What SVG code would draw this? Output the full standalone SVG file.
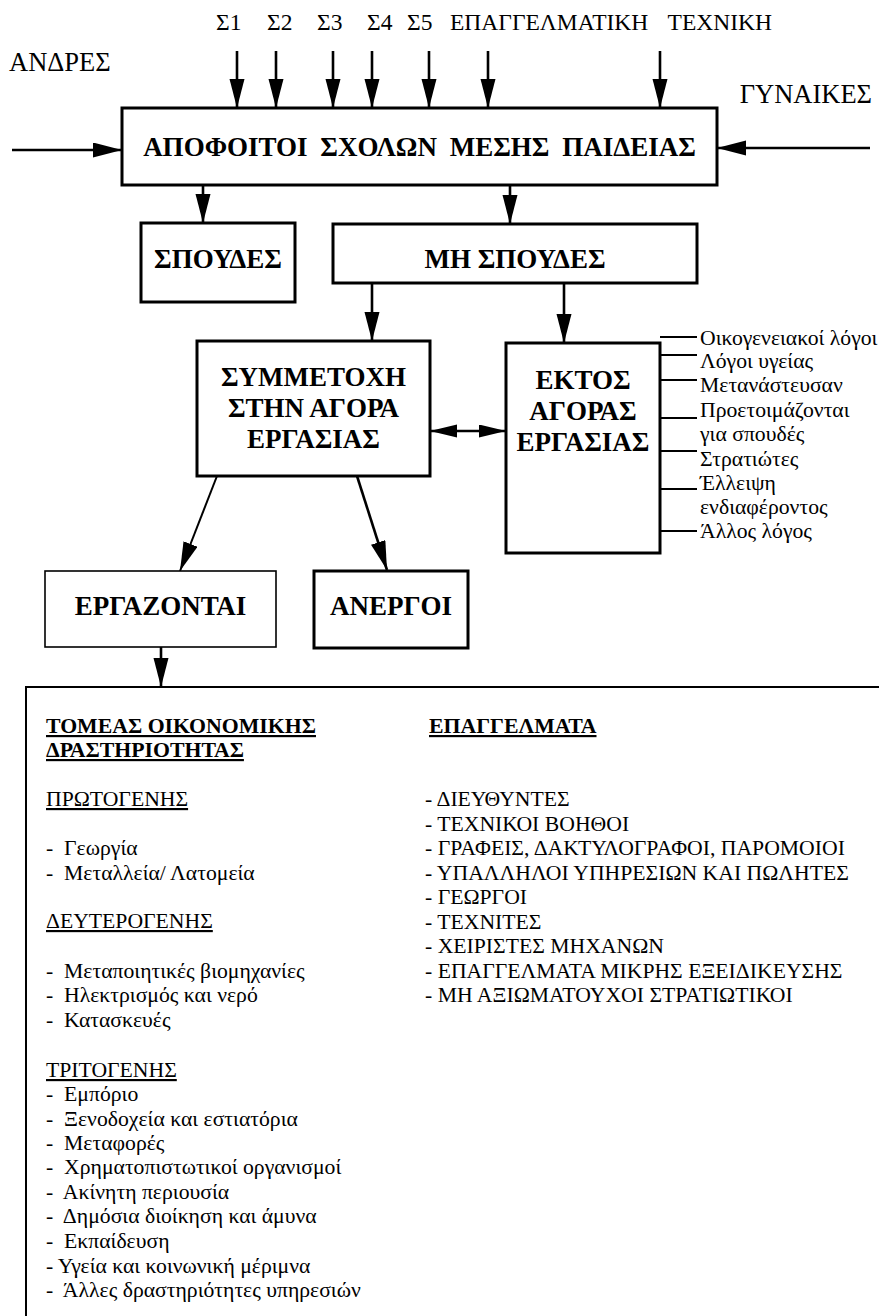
<svg xmlns="http://www.w3.org/2000/svg" width="879" height="1316" viewBox="0 0 879 1316">
<style>
text{font-family:"Liberation Serif","Times New Roman",serif;fill:#000}
.lbl{font-size:23.5px}
.lbl2{font-size:26.5px}
.b{font-weight:bold;font-size:27px}
.box{fill:#fff;stroke:#000;stroke-width:3}
.thin{stroke-width:1.6}
.ln{stroke:#000;stroke-width:2.6;fill:none}
.sl{stroke:#000;stroke-width:2;fill:none}
.t{font-size:21.7px}
.h{font-size:21.8px;font-weight:bold;text-decoration:underline}
.u{text-decoration:underline}
</style>
<defs>
<marker id="ah" markerUnits="userSpaceOnUse" markerWidth="30" markerHeight="16" refX="29" refY="7.5" orient="auto-start-reverse" viewBox="0 0 30 16">
<path d="M0,0 L29,7.5 L0,15 z" fill="#000"/>
</marker>
<marker id="ah2" markerUnits="userSpaceOnUse" markerWidth="28" markerHeight="14" refX="27" refY="6.5" orient="auto-start-reverse" viewBox="0 0 28 14">
<path d="M0,0 L27,6.5 L0,13 z" fill="#000"/>
</marker>
</defs>

<g id="labels-top">
<text class="lbl" x="216" y="30">Σ1</text>
<text class="lbl" x="267" y="30">Σ2</text>
<text class="lbl" x="317" y="30">Σ3</text>
<text class="lbl" x="367" y="30">Σ4</text>
<text class="lbl" x="407" y="30">Σ5</text>
<text class="lbl" x="450" y="30">ΕΠΑΓΓΕΛΜΑΤΙΚΗ</text>
<text class="lbl" x="772" y="30" text-anchor="end">ΤΕΧΝΙΚΗ</text>
<text class="lbl2" x="9" y="71">ΑΝΔΡΕΣ</text>
<text class="lbl2" x="872" y="103" text-anchor="end">ΓΥΝΑΙΚΕΣ</text>
</g>

<g id="connectors">
<line class="ln" x1="237" y1="51" x2="237" y2="108" marker-end="url(#ah)"/>
<line class="ln" x1="276" y1="51" x2="276" y2="108" marker-end="url(#ah)"/>
<line class="ln" x1="333" y1="51" x2="333" y2="108" marker-end="url(#ah)"/>
<line class="ln" x1="372" y1="51" x2="372" y2="108" marker-end="url(#ah)"/>
<line class="ln" x1="429" y1="51" x2="429" y2="108" marker-end="url(#ah)"/>
<line class="ln" x1="488" y1="51" x2="488" y2="108" marker-end="url(#ah)"/>
<line class="ln" x1="660" y1="51" x2="660" y2="108" marker-end="url(#ah)"/>
<line class="ln" x1="12" y1="150" x2="122" y2="150" marker-end="url(#ah)"/>
<line class="ln" x1="870" y1="148" x2="717" y2="148" marker-end="url(#ah)"/>
<line class="ln" x1="203" y1="185" x2="203" y2="223" marker-end="url(#ah)"/>
<line class="ln" x1="510" y1="185" x2="510" y2="224" marker-end="url(#ah)"/>
<line class="ln" x1="372" y1="283" x2="372" y2="341" marker-end="url(#ah)"/>
<line class="ln" x1="564" y1="283" x2="564" y2="343" marker-end="url(#ah)"/>
<line class="ln" x1="430" y1="431" x2="506" y2="431" marker-start="url(#ah2)" marker-end="url(#ah2)"/>
<line class="sl" x1="217" y1="476" x2="180" y2="571" marker-end="url(#ah)"/>
<line class="ln" x1="357" y1="476" x2="387" y2="570" marker-end="url(#ah)"/>
<line class="ln" x1="161" y1="647" x2="161" y2="687" marker-end="url(#ah)"/>
<line class="sl" x1="660" y1="337" x2="697" y2="337"/>
<line class="sl" x1="660" y1="355" x2="697" y2="355"/>
<line class="sl" x1="660" y1="380" x2="697" y2="380"/>
<line class="sl" x1="660" y1="418" x2="697" y2="418"/>
<line class="sl" x1="660" y1="451" x2="697" y2="451"/>
<line class="sl" x1="660" y1="489" x2="697" y2="489"/>
<line class="sl" x1="660" y1="531" x2="697" y2="531"/>
</g>

<g id="node-apofoitoi">
<rect class="box" x="122" y="108" width="595" height="77"/>
<text class="b" x="419.5" y="156" text-anchor="middle" word-spacing="6">ΑΠΟΦΟΙΤΟΙ ΣΧΟΛΩΝ ΜΕΣΗΣ ΠΑΙΔΕΙΑΣ</text>
</g>
<g id="node-spoudes">
<rect class="box" x="141" y="223" width="154" height="79"/>
<text class="b" x="218" y="268" text-anchor="middle">ΣΠΟΥΔΕΣ</text>
</g>
<g id="node-mi-spoudes">
<rect class="box" x="333" y="224" width="364" height="59"/>
<text class="b" x="515" y="268" text-anchor="middle">ΜΗ ΣΠΟΥΔΕΣ</text>
</g>
<g id="node-symmetoxi">
<rect class="box" x="197" y="341" width="233" height="135"/>
<text class="b" x="313.5" y="386" text-anchor="middle">ΣΥΜΜΕΤΟΧΗ</text>
<text class="b" x="313.5" y="417" text-anchor="middle">ΣΤΗΝ ΑΓΟΡΑ</text>
<text class="b" x="313.5" y="448" text-anchor="middle">ΕΡΓΑΣΙΑΣ</text>
</g>
<g id="node-ektos">
<rect class="box" x="506" y="343" width="154" height="210"/>
<text class="b" x="583" y="389" text-anchor="middle">ΕΚΤΟΣ</text>
<text class="b" x="583" y="420" text-anchor="middle">ΑΓΟΡΑΣ</text>
<text class="b" x="583" y="451" text-anchor="middle">ΕΡΓΑΣΙΑΣ</text>
</g>
<g id="reasons">
<text class="t" x="700" y="345">Οικογενειακοί λόγοι</text>
<text class="t" x="700" y="368">Λόγοι υγείας</text>
<text class="t" x="700" y="392">Μετανάστευσαν</text>
<text class="t" x="700" y="417">Προετοιμάζονται</text>
<text class="t" x="700" y="441">για σπουδές</text>
<text class="t" x="700" y="466">Στρατιώτες</text>
<text class="t" x="700" y="490">Έλλειψη</text>
<text class="t" x="700" y="514">ενδιαφέροντος</text>
<text class="t" x="700" y="538">Άλλος λόγος</text>
</g>
<g id="node-ergazontai">
<rect class="box thin" x="45" y="571" width="231" height="76"/>
<text class="b" x="160.5" y="615" text-anchor="middle">ΕΡΓΑΖΟΝΤΑΙ</text>
</g>
<g id="node-anergoi">
<rect class="box" x="314" y="571" width="154" height="77"/>
<text class="b" x="391" y="615" text-anchor="middle">ΑΝΕΡΓΟΙ</text>
</g>

<g id="node-details">
<rect x="26" y="687" width="900" height="700" fill="#fff" stroke="#000" stroke-width="2"/>
<text class="h" x="46" y="733">ΤΟΜΕΑΣ ΟΙΚΟΝΟΜΙΚΗΣ</text>
<text class="h" x="46" y="757">ΔΡΑΣΤΗΡΙΟΤΗΤΑΣ</text>
<text class="t u" x="46" y="806">ΠΡΩΤΟΓΕΝΗΣ</text>
<text class="t" x="46" y="855" xml:space="preserve">-  Γεωργία</text>
<text class="t" x="46" y="880" xml:space="preserve">-  Μεταλλεία/ Λατομεία</text>
<text class="t u" x="46" y="928">ΔΕΥΤΕΡΟΓΕΝΗΣ</text>
<text class="t" x="46" y="978" xml:space="preserve">-  Μεταποιητικές βιομηχανίες</text>
<text class="t" x="46" y="1002" xml:space="preserve">-  Ηλεκτρισμός και νερό</text>
<text class="t" x="46" y="1027" xml:space="preserve">-  Κατασκευές</text>
<text class="t u" x="46" y="1077">ΤΡΙΤΟΓΕΝΗΣ</text>
<text class="t" x="46" y="1101" xml:space="preserve">-  Εμπόριο</text>
<text class="t" x="46" y="1126" xml:space="preserve">-  Ξενοδοχεία και εστιατόρια</text>
<text class="t" x="46" y="1150" xml:space="preserve">-  Μεταφορές</text>
<text class="t" x="46" y="1174" xml:space="preserve">-  Χρηματοπιστωτικοί οργανισμοί</text>
<text class="t" x="46" y="1199" xml:space="preserve">-  Ακίνητη περιουσία</text>
<text class="t" x="46" y="1223" xml:space="preserve">-  Δημόσια διοίκηση και άμυνα</text>
<text class="t" x="46" y="1248" xml:space="preserve">-  Εκπαίδευση</text>
<text class="t" x="46" y="1273">- Υγεία και κοινωνική μέριμνα</text>
<text class="t" x="46" y="1297" xml:space="preserve">-  Άλλες δραστηριότητες υπηρεσιών</text>
<text class="h" x="429" y="733">ΕΠΑΓΓΕΛΜΑΤΑ</text>
<text class="t" x="425" y="806">- ΔΙΕΥΘΥΝΤΕΣ</text>
<text class="t" x="425" y="831">- ΤΕΧΝΙΚΟΙ ΒΟΗΘΟΙ</text>
<text class="t" x="425" y="855">- ΓΡΑΦΕΙΣ, ΔΑΚΤΥΛΟΓΡΑΦΟΙ, ΠΑΡΟΜΟΙΟΙ</text>
<text class="t" x="425" y="880">- ΥΠΑΛΛΗΛΟΙ ΥΠΗΡΕΣΙΩΝ ΚΑΙ ΠΩΛΗΤΕΣ</text>
<text class="t" x="425" y="904">- ΓΕΩΡΓΟΙ</text>
<text class="t" x="425" y="929">- ΤΕΧΝΙΤΕΣ</text>
<text class="t" x="425" y="953">- ΧΕΙΡΙΣΤΕΣ ΜΗΧΑΝΩΝ</text>
<text class="t" x="425" y="978">- ΕΠΑΓΓΕΛΜΑΤΑ ΜΙΚΡΗΣ ΕΞΕΙΔΙΚΕΥΣΗΣ</text>
<text class="t" x="425" y="1002">- ΜΗ ΑΞΙΩΜΑΤΟΥΧΟΙ ΣΤΡΑΤΙΩΤΙΚΟΙ</text>
</g>
</svg>
